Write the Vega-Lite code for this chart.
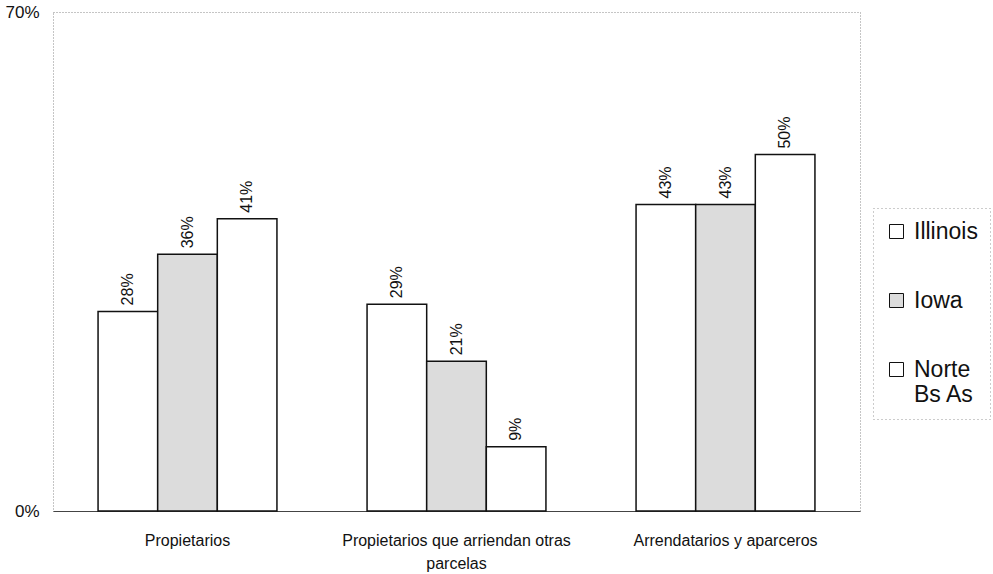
{
  "$schema": "https://vega.github.io/schema/vega-lite/v6.json",
  "width": 807,
  "height": 499,
  "autosize": {"type": "none"},
  "padding": {"left": 53, "top": 12, "right": 133, "bottom": 63},
  "background": "white",
  "config": {
    "font": "Liberation Sans",
    "view": {"stroke": "#8a8a8a", "strokeDash": [1, 2], "strokeWidth": 1},
    "legend": {"strokeColor": "#999", "strokeDash": [1, 3]}
  },
  "data": {
    "values": [
      {"tenencia": "Propietarios", "region": "Illinois", "share": 0.28},
      {"tenencia": "Propietarios", "region": "Iowa", "share": 0.36},
      {"tenencia": "Propietarios", "region": "Norte Bs As", "share": 0.41},
      {"tenencia": "Propietarios que arriendan otras parcelas", "region": "Illinois", "share": 0.29},
      {"tenencia": "Propietarios que arriendan otras parcelas", "region": "Iowa", "share": 0.21},
      {"tenencia": "Propietarios que arriendan otras parcelas", "region": "Norte Bs As", "share": 0.09},
      {"tenencia": "Arrendatarios y aparceros", "region": "Illinois", "share": 0.43},
      {"tenencia": "Arrendatarios y aparceros", "region": "Iowa", "share": 0.43},
      {"tenencia": "Arrendatarios y aparceros", "region": "Norte Bs As", "share": 0.50}
    ]
  },
  "encoding": {
    "x": {
      "field": "tenencia",
      "type": "nominal",
      "sort": ["Propietarios", "Propietarios que arriendan otras parcelas", "Arrendatarios y aparceros"],
      "scale": {"paddingInner": 0.335, "paddingOuter": 0.1675},
      "axis": {
        "title": null,
        "ticks": false,
        "labelAngle": 0,
        "labelPadding": 21,
        "labelFontSize": 16,
        "labelColor": "#111",
        "labelLimit": 0,
        "labelLineHeight": 23,
        "domainColor": "#444",
        "domainWidth": 1,
        "labelExpr": "datum.value == 'Propietarios que arriendan otras parcelas' ? ['Propietarios que arriendan otras', 'parcelas'] : datum.value"
      }
    },
    "xOffset": {
      "field": "region",
      "type": "nominal",
      "sort": ["Illinois", "Iowa", "Norte Bs As"],
      "scale": {"paddingInner": 0, "paddingOuter": 0}
    },
    "y": {
      "field": "share",
      "type": "quantitative",
      "scale": {"domain": [0, 0.7], "nice": false},
      "axis": {
        "title": null,
        "values": [0, 0.7],
        "format": ".0%",
        "ticks": false,
        "domain": false,
        "grid": false,
        "labelPadding": 14,
        "labelFontSize": 17,
        "labelColor": "#111"
      }
    }
  },
  "layer": [
    {
      "mark": {"type": "bar", "stroke": "#111", "strokeWidth": 1.5},
      "encoding": {
        "fill": {
          "field": "region",
          "type": "nominal",
          "scale": {
            "domain": ["Illinois", "Iowa", "Norte Bs As"],
            "range": ["#ffffff", "#dcdcdc", "#ffffff"]
          },
          "legend": {
            "orient": "none",
            "legendX": 820,
            "legendY": 196,
            "title": null,
            "symbolType": "square",
            "symbolSize": 196,
            "symbolStrokeColor": "#111",
            "symbolStrokeWidth": 1,
            "labelFontSize": 23,
            "labelColor": "#111",
            "labelOffset": 6,
            "labelLineHeight": 28,
            "rowPadding": 45,
            "padding": 12,
            "labelExpr": "datum.value == 'Norte Bs As' ? ['Norte', 'Bs As'] : datum.value"
          }
        }
      }
    },
    {
      "mark": {
        "type": "text",
        "angle": -90,
        "align": "left",
        "baseline": "middle",
        "dx": 6,
        "fontSize": 16,
        "color": "#111"
      },
      "encoding": {
        "text": {"field": "share", "type": "quantitative", "format": ".0%"},
        "detail": {"field": "region"}
      }
    }
  ]
}
